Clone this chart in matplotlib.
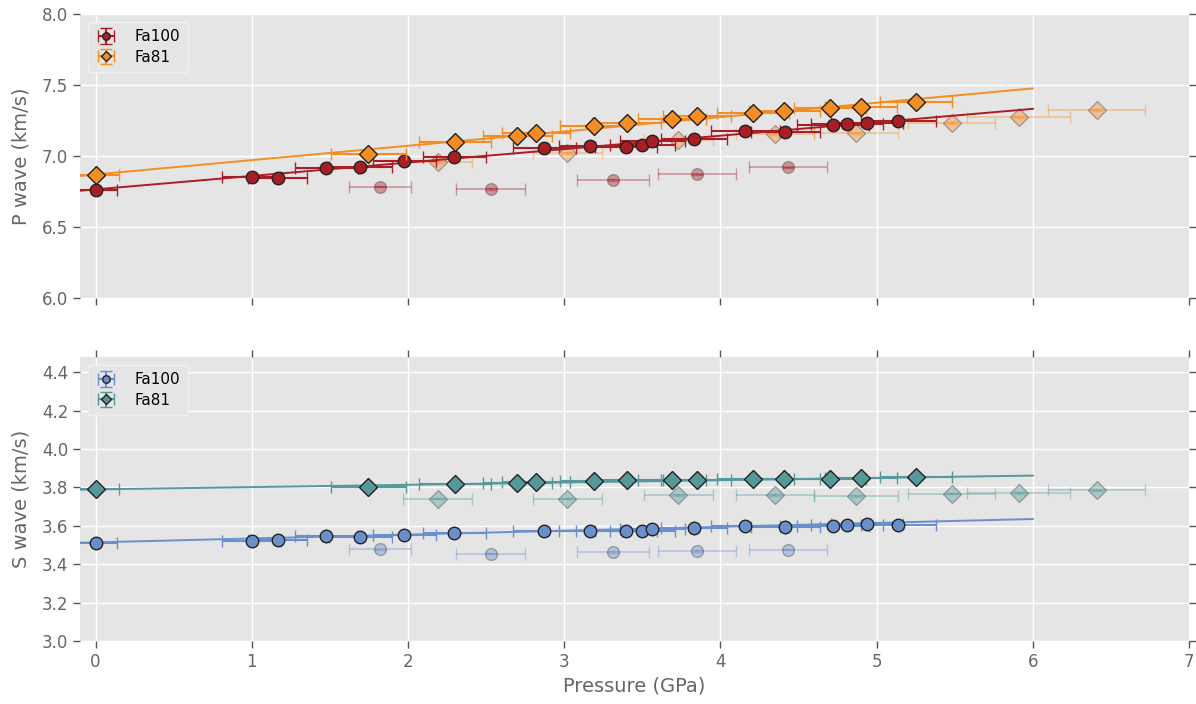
import numpy as np
import matplotlib
matplotlib.use("Agg")
import matplotlib.pyplot as plt

# ---------------- data ----------------
# bold (used) measurements, Fa100
p100 = [0.0, 1.00, 1.165, 1.478, 1.695, 1.977, 2.297, 2.873, 3.167, 3.397, 3.50,
        3.564, 3.832, 4.159, 4.415, 4.722, 4.811, 4.939, 5.138]
p100_err = [0.14, 0.19, 0.19, 0.20, 0.20, 0.20, 0.20, 0.20, 0.20, 0.20, 0.21,
            0.21, 0.21, 0.22, 0.22, 0.23, 0.23, 0.23, 0.24]
vp100 = [6.761, 6.852, 6.845, 6.915, 6.922, 6.965, 6.993, 7.056, 7.070, 7.063, 7.077,
         7.106, 7.120, 7.176, 7.169, 7.218, 7.225, 7.232, 7.246]
vs100 = [3.512, 3.520, 3.527, 3.548, 3.543, 3.553, 3.564, 3.574, 3.574, 3.574, 3.574,
         3.585, 3.590, 3.600, 3.595, 3.600, 3.606, 3.611, 3.606]

# bold (used) measurements, Fa81
p81 = [0.0, 1.747, 2.303, 2.70, 2.82, 3.19, 3.40, 3.69, 3.85, 4.21, 4.41, 4.70, 4.90, 5.25]
p81_err = [0.15, 0.24, 0.23, 0.22, 0.22, 0.22, 0.22, 0.22, 0.22, 0.23, 0.23, 0.23, 0.23, 0.23]
vp81 = [6.866, 7.014, 7.099, 7.141, 7.162, 7.211, 7.232, 7.261, 7.282, 7.303, 7.317,
        7.338, 7.345, 7.380]
vs81 = [3.790, 3.800, 3.820, 3.822, 3.827, 3.833, 3.840, 3.840, 3.841, 3.843, 3.845,
        3.845, 3.848, 3.855]

# faded (excluded) measurements, Fa100
q100 = [1.82, 2.53, 3.31, 3.85, 4.43]
q100_err = [0.20, 0.22, 0.23, 0.25, 0.25]
wp100 = [6.785, 6.768, 6.831, 6.870, 6.920]
ws100 = [3.478, 3.455, 3.465, 3.470, 3.476]

# faded (excluded) measurements, Fa81
q81 = [2.19, 3.02, 3.73, 4.35, 4.87, 5.48, 5.91, 6.41]
q81_err = [0.22, 0.22, 0.22, 0.25, 0.27, 0.28, 0.33, 0.31]
wp81 = [6.958, 7.021, 7.113, 7.155, 7.162, 7.232, 7.275, 7.324]
ws81 = [3.742, 3.742, 3.762, 3.762, 3.755, 3.768, 3.772, 3.785]

# linear fits (intercept, slope)
fit_p100 = [6.765, 0.0945]
fit_p81 = [6.870, 0.1010]
fit_s100 = [3.514, 0.0203]
fit_s81 = [3.790, 0.0120]
fit_range = [-0.1, 6.0]

labels = ["Fa100", "Fa81"]
c_red, c_orange = "#ab1c25", "#f58d21"
c_blue, c_teal = "#6a8fcd", "#55999a"

# ---------------- figure ----------------
plt.rcParams.update({
    "font.family": ["DejaVu Sans"],
    "axes.facecolor": "#e5e5e5",
    "axes.edgecolor": "none",
    "axes.grid": True,
    "grid.color": "white",
    "grid.linewidth": 1.0,
    "axes.axisbelow": True,
    "xtick.color": "#555555",
    "ytick.color": "#555555",
    "xtick.labelcolor": "#666666",
    "ytick.labelcolor": "#666666",
    "xtick.direction": "out",
    "ytick.direction": "out",
    "xtick.labelsize": 12,
    "ytick.labelsize": 12,
    "axes.labelcolor": "#666666",
    "axes.labelsize": 14,
})

fig = plt.figure(figsize=(11.96, 7.04), dpi=100)
ax1 = fig.add_axes([80 / 1196, 1 - 298 / 704, (1189 - 80) / 1196, (298 - 14) / 704])
ax2 = fig.add_axes([80 / 1196, 1 - 641 / 704, (1189 - 80) / 1196, (641 - 357) / 704])

xs_fit = np.linspace(fit_range[0], fit_range[1], 50)


def panel(ax, xa, xa_err, ya, xb, xb_err, yb, qa, qa_err, za, qb, qb_err, zb,
          fa, fb, ca, cb, yerr_small):
    # faded points
    ax.errorbar(qa, za, xerr=qa_err, yerr=yerr_small, fmt="o", color=ca, ms=8.5,
                mec="#444444", capsize=4, elinewidth=1.2, alpha=0.4, zorder=2)
    ax.errorbar(qb, zb, xerr=qb_err, yerr=yerr_small, fmt="D", color=cb, ms=9,
                mec="#444444", capsize=4, elinewidth=1.2, alpha=0.4, zorder=2)
    # fits
    ax.plot(xs_fit, fa[0] + fa[1] * xs_fit, color=ca, lw=1.4, zorder=3)
    ax.plot(xs_fit, fb[0] + fb[1] * xs_fit, color=cb, lw=1.4, zorder=3)
    # bold points
    h1 = ax.errorbar(xa, ya, xerr=xa_err, yerr=yerr_small, fmt="o", color=ca, ms=9,
                     mec="#222222", mew=1.0, capsize=4, elinewidth=1.5, zorder=4,
                     label=labels[0])
    h2 = ax.errorbar(xb, yb, xerr=xb_err, yerr=yerr_small, fmt="D", color=cb, ms=9,
                     mec="#222222", mew=1.0, capsize=4, elinewidth=1.5, zorder=5,
                     label=labels[1])
    ax.legend(handles=[h1, h2], loc="upper left", fontsize=11, frameon=True,
              facecolor="#e5e5e5", edgecolor="#f0f0f0", framealpha=1,
              markerscale=0.6, handlelength=1.4, borderpad=0.5,
              handletextpad=1.2, labelspacing=0.35)
    ax.set_xlim(-0.1, 7.0)
    ax.tick_params(right=True, length=5, width=1)


panel(ax1, p100, p100_err, vp100, p81, p81_err, vp81, q100, q100_err, wp100,
      q81, q81_err, wp81, fit_p100, fit_p81, c_red, c_orange, 0.005)
panel(ax2, p100, p100_err, vs100, p81, p81_err, vs81, q100, q100_err, ws100,
      q81, q81_err, ws81, fit_s100, fit_s81, c_blue, c_teal, 0.004)

ax1.set_ylim(6.0, 8.0)
ax1.set_yticks(np.arange(6.0, 8.01, 0.5))
ax1.yaxis.set_major_formatter(matplotlib.ticker.FormatStrFormatter("%.1f"))
ax1.set_xticks(range(0, 8))
ax1.tick_params(labelbottom=False)
ax1.set_ylabel("P wave (km/s)")

ax2.set_ylim(3.0, 4.48)
ax2.set_yticks(np.arange(3.0, 4.41, 0.2))
ax2.yaxis.set_major_formatter(matplotlib.ticker.FormatStrFormatter("%.1f"))
ax2.set_xticks(range(0, 8))
ax2.tick_params(top=True)
ax2.set_ylabel("S wave (km/s)")
ax2.set_xlabel("Pressure (GPa)")

ax1.yaxis.set_label_coords(-0.045, 0.5)
ax2.yaxis.set_label_coords(-0.045, 0.5)

fig.savefig("out.png", dpi=100)
